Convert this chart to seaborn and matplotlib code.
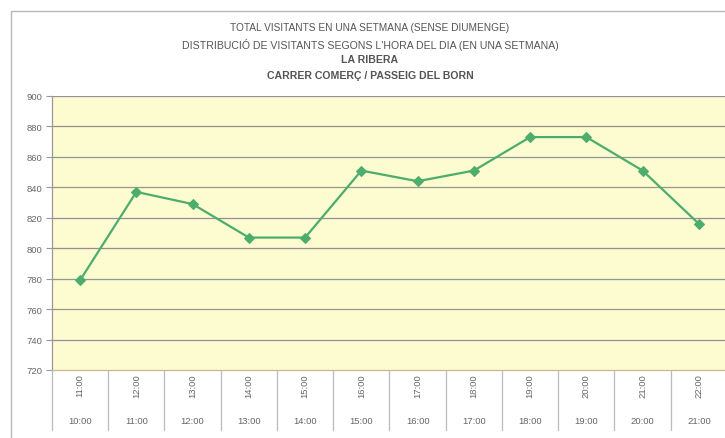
import matplotlib
matplotlib.use("Agg")
import matplotlib.pyplot as plt
from matplotlib.lines import Line2D
from matplotlib.patches import Rectangle
import seaborn as sns
import pandas as pd

# Data
upper_labels = ["11:00", "12:00", "13:00", "14:00", "15:00", "16:00",
                "17:00", "18:00", "19:00", "20:00", "21:00", "22:00"]
lower_labels = ["10:00", "11:00", "12:00", "13:00", "14:00", "15:00",
                "16:00", "17:00", "18:00", "19:00", "20:00", "21:00"]
visitants = [779, 837, 829, 807, 807, 851, 844, 851, 873, 873, 851, 816]
title_lines = ["TOTAL VISITANTS EN UNA SETMANA (SENSE DIUMENGE)",
               "DISTRIBUCIÓ DE VISITANTS SEGONS L'HORA DEL DIA (EN UNA SETMANA)",
               "LA RIBERA",
               "CARRER COMERÇ / PASSEIG DEL BORN"]
yticks = list(range(720, 901, 20))

sns.set_theme(style="white")
plt.rcParams['font.family'] = ['Liberation Sans', 'DejaVu Sans']

W, H = 725, 439
fig = plt.figure(figsize=(W / 100, H / 100), dpi=100)
fig.patch.set_facecolor("white")

# outer chart border
fig.patches.append(Rectangle((11 / W, -0.1), 1.2, 1 - 12 / H + 0.1,
                             transform=fig.transFigure, fill=False,
                             edgecolor="#b8b8b8", linewidth=1.0))

left, right, top, bottom = 52, 727, 97, 371
ax = fig.add_axes([left / W, 1 - bottom / H, (right - left) / W, (bottom - top) / H])
ax.set_facecolor("#fcfcd0")

df = pd.DataFrame({"x": list(range(len(visitants))), "v": visitants})
sns.lineplot(data=df, x="x", y="v", ax=ax, color="#4cad6c", linewidth=1.6,
             marker="D", markersize=5.5, markeredgecolor="#4cad6c", zorder=5)

ax.set_xlim(-0.5, len(visitants) - 0.5)
ax.set_ylim(720, 900)
ax.set_yticks(yticks)
ax.set_yticklabels([str(t) for t in yticks], fontsize=6.8, color="#666666")
ax.tick_params(axis="y", which="both", left=True, length=4, width=0.8,
               color="#999999", pad=3)
ax.set_xticks([])
ax.set_xlabel("")
ax.set_ylabel("")

grid_colors = ["#9a8c9c", "#9c968c", "#909a92", "#9c8c8c"]
for i, t in enumerate(yticks[1:]):
    ax.axhline(t, color=grid_colors[i % len(grid_colors)], linewidth=0.9, zorder=1)

for s in ["top", "right"]:
    ax.spines[s].set_visible(False)
ax.spines["left"].set_color("#999999")
ax.spines["left"].set_linewidth(0.9)
ax.spines["bottom"].set_color("#c8b890")
ax.spines["bottom"].set_linewidth(0.9)

trans = ax.get_xaxis_transform()
depth = 60 / (bottom - top)
for i in range(len(visitants) + 1):
    ax.add_line(Line2D([i - 0.5, i - 0.5], [0, -depth], transform=trans,
                       color="#bbbbbb", linewidth=0.9, clip_on=False))

for i, (u, l) in enumerate(zip(upper_labels, lower_labels)):
    ax.text(i, -15 / (bottom - top), u, transform=trans, rotation=90,
            ha="center", va="center", fontsize=6.8, color="#666666")
    ax.text(i, -51 / (bottom - top), l, transform=trans,
            ha="center", va="center", fontsize=6.8, color="#666666")

ys = [28, 45, 60, 76]
sizes = [7.3, 7.6, 7.6, 7.6]
for k, (txt, y) in enumerate(zip(title_lines, ys)):
    fig.text(370 / W, 1 - y / H, txt, ha="center", va="center",
             fontsize=sizes[k], color="#555555",
             fontweight="bold" if k >= 2 else "normal")

fig.savefig("out.png", dpi=100)
